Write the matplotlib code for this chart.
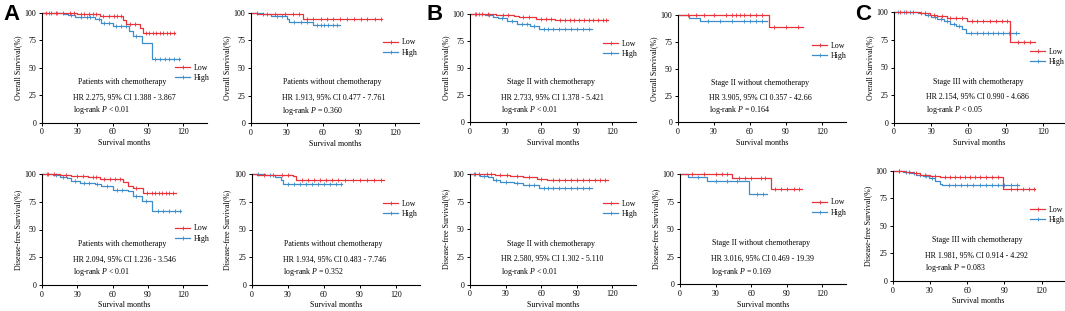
import numpy as np
import matplotlib
matplotlib.use('Agg')
import matplotlib.pyplot as plt
from matplotlib.lines import Line2D

# figure size in pixels
W, H = 1065, 311

plt.rcParams['font.family'] = ['Liberation Serif', 'DejaVu Serif']
plt.rcParams['mathtext.fontset'] = 'custom'
plt.rcParams['mathtext.rm'] = 'Liberation Serif'
plt.rcParams['mathtext.it'] = 'Liberation Serif:italic'

red = '#E8333A'
blue = '#3C8DC9'

# ---- Overall survival, patients with chemotherapy (A, top) ----
a_os_low_t = [0, 15, 30, 49, 55, 69, 71, 83, 86, 113]
a_os_low_s = [100, 99.2, 98.5, 97, 96.5, 93, 90, 85.5, 81.5, 81.5]
a_os_low_c = [3, 8, 12, 18, 24, 27, 33, 36, 40, 43, 46, 52, 57, 61, 64, 67, 75, 79, 88, 91, 94, 97, 100, 103, 106, 109, 112]
a_os_high_t = [0, 19, 22, 28, 45, 50, 60, 74, 77, 84.5, 93, 117]
a_os_high_s = [100, 99, 98, 96, 94, 90.5, 87.5, 83, 78.5, 72.5, 58, 58]
a_os_high_c = [6, 13, 25, 33, 38, 41, 48, 53, 57, 63, 67, 71, 80, 96, 100, 104, 108, 112, 116]

# ---- Overall survival, patients without chemotherapy (A, top) ----
a2_os_low_t = [0, 4.7, 43.5, 109]
a2_os_low_s = [100, 98.5, 94.3, 94.3]
a2_os_low_c = [10, 20, 28, 35, 40, 47, 52, 58, 63, 68, 74, 80, 86, 92, 97, 103, 108]
a2_os_high_t = [0, 9, 17, 30, 31.5, 52, 74]
a2_os_high_s = [100, 99, 97, 94, 92, 89, 89]
a2_os_high_c = [5, 13, 22, 26, 36, 42, 47, 55, 58, 61, 64, 68, 72]

# ---- Overall survival, stage II with chemotherapy (B, top) ----
b_os_low_t = [0, 22, 37, 41, 56, 72, 116]
b_os_low_s = [100, 99.5, 98, 97, 95.5, 94, 94]
b_os_low_c = [5, 10, 15, 28, 32, 45, 50, 60, 64, 68, 76, 80, 84, 88, 92, 96, 100, 104, 108, 112, 115]
b_os_high_t = [0, 12.7, 19.5, 23.7, 31, 39.5, 51, 58, 103]
b_os_high_s = [100, 99, 97, 96, 93.5, 91, 88.5, 86, 86]
b_os_high_c = [4, 8, 16, 27, 35, 44, 48, 54, 62, 66, 70, 75, 80, 85, 90, 95, 100]

# ---- Overall survival, stage II without chemotherapy (B, top) ----
b2_os_low_t = [0, 76, 104]
b2_os_low_s = [100, 89, 89]
b2_os_low_c = [8, 15, 22, 30, 40, 45, 48, 52, 55, 60, 65, 70, 80, 90, 100]
b2_os_high_t = [0, 9.5, 18.6, 74]
b2_os_high_s = [100, 97.5, 94, 94]
b2_os_high_c = [25, 35, 45, 55, 60, 65, 70]

# ---- Overall survival, stage III with chemotherapy (C, top) ----
c_os_low_t = [0, 21, 29, 35, 42.5, 59, 93.4, 114]
c_os_low_s = [100, 99, 98, 97, 95, 92.5, 73.5, 73.5]
c_os_low_c = [5, 10, 15, 25, 32, 39, 45, 50, 55, 63, 67, 72, 77, 82, 87, 91, 100, 105, 110]
c_os_high_t = [0, 19, 25, 30, 35, 40, 45, 50, 54.5, 58, 101]
c_os_high_s = [100, 99, 97.5, 96, 94, 92, 89, 87.5, 85, 81.5, 81.5]
c_os_high_c = [3, 8, 13, 22, 27, 33, 38, 43, 48, 52, 62, 67, 72, 76, 80, 84, 88, 93, 98]

# ---- Disease-free survival, patients with chemotherapy (A, bottom) ----
a_dfs_low_t = [0, 15, 25, 39, 49, 69, 73, 77, 86, 114]
a_dfs_low_s = [100, 99, 98, 97, 95.5, 92.5, 89.5, 87.5, 83, 83]
a_dfs_low_c = [5, 10, 20, 30, 35, 43, 46, 53, 58, 62, 66, 80, 89, 93, 96, 99, 102, 105, 108, 111]
a_dfs_high_t = [0, 9, 15, 21, 25, 32, 45, 50, 60, 73, 77, 84.5, 93, 118]
a_dfs_high_s = [100, 99, 97.6, 96, 94, 92, 91, 89, 86, 85, 80, 76, 66.5, 66.5]
a_dfs_high_c = [4, 12, 18, 28, 36, 40, 47, 55, 64, 68, 80, 88, 98, 103, 108, 113, 117]

# ---- Disease-free survival, patients without chemotherapy (A, bottom) ----
a2_dfs_low_t = [0, 4, 34.6, 37, 110]
a2_dfs_low_s = [100, 99, 98, 94.6, 94.6]
a2_dfs_low_c = [10, 18, 25, 30, 42, 47, 52, 57, 62, 67, 72, 78, 84, 90, 96, 102, 108]
a2_dfs_high_t = [0, 11, 19.5, 24, 26, 75]
a2_dfs_high_s = [100, 99, 97.5, 95, 91, 91]
a2_dfs_high_c = [5, 15, 30, 35, 40, 45, 50, 55, 60, 65, 70, 74]

# ---- Disease-free survival, stage II with chemotherapy (B, bottom) ----
b_dfs_low_t = [0, 21, 28, 34, 45, 56.5, 65, 116]
b_dfs_low_s = [100, 99.5, 99, 98, 97, 95.5, 94.5, 94.5]
b_dfs_low_c = [4, 8, 14, 18, 25, 31, 40, 50, 60, 70, 75, 80, 85, 90, 95, 100, 105, 110, 114]
b_dfs_high_t = [0, 8.5, 15, 19.5, 25, 36.7, 45, 58, 103]
b_dfs_high_s = [100, 98.2, 97, 95, 93, 91.5, 90.5, 87.5, 87.5]
b_dfs_high_c = [3, 12, 22, 30, 40, 50, 54, 62, 66, 70, 75, 80, 85, 90, 95, 100]

# ---- Disease-free survival, stage II without chemotherapy (B, bottom) ----
b2_dfs_low_t = [0, 43.7, 76.7, 103]
b2_dfs_low_s = [100, 96.5, 86, 86]
b2_dfs_low_c = [10, 20, 30, 35, 40, 50, 55, 60, 68, 72, 80, 85, 90, 96, 100]
b2_dfs_high_t = [0, 7, 22.5, 58.6, 73]
b2_dfs_high_s = [100, 97.5, 94, 82, 82]
b2_dfs_high_c = [15, 30, 40, 48, 65, 70]

# ---- Disease-free survival, stage III with chemotherapy (C, bottom) ----
c_dfs_low_t = [0, 10, 16, 22, 30, 38, 88.5, 115]
c_dfs_low_s = [100, 99, 98, 96.5, 95, 94.5, 83.5, 83.5]
c_dfs_low_c = [5, 13, 19, 26, 34, 42, 46, 50, 54, 58, 62, 66, 70, 75, 80, 85, 95, 100, 105, 110, 114]
c_dfs_high_t = [0, 8, 14, 19, 24.5, 29, 34, 38, 40, 102]
c_dfs_high_s = [100, 99, 98, 96.5, 95, 93, 91, 88, 86.7, 86.7]
c_dfs_high_c = [5, 11, 17, 22, 27, 32, 45, 50, 55, 60, 65, 70, 75, 80, 85, 90, 95, 100]

titles = ['Patients with chemotherapy', 'Patients without chemotherapy',
          'Stage II with chemotherapy', 'Stage II without chemotherapy',
          'Stage III with chemotherapy']
hr_top = ['HR 2.275, 95% CI 1.388 - 3.867', 'HR 1.913, 95% CI 0.477 - 7.761',
          'HR 2.733, 95% CI 1.378 - 5.421', 'HR 3.905, 95% CI 0.357 - 42.66',
          'HR 2.154, 95% CI 0.990 - 4.686']
p_top = ['< 0.01', '= 0.360', '< 0.01', '= 0.164', '< 0.05']
hr_bot = ['HR 2.094, 95% CI 1.236 - 3.546', 'HR 1.934, 95% CI 0.483 - 7.746',
          'HR 2.580, 95% CI 1.302 - 5.110', 'HR 3.016, 95% CI 0.469 - 19.39',
          'HR 1.981, 95% CI 0.914 - 4.292']
p_bot = ['< 0.01', '= 0.352', '< 0.01', '= 0.169', '= 0.083']

curves_top = [
    (a_os_low_t, a_os_low_s, a_os_low_c, a_os_high_t, a_os_high_s, a_os_high_c),
    (a2_os_low_t, a2_os_low_s, a2_os_low_c, a2_os_high_t, a2_os_high_s, a2_os_high_c),
    (b_os_low_t, b_os_low_s, b_os_low_c, b_os_high_t, b_os_high_s, b_os_high_c),
    (b2_os_low_t, b2_os_low_s, b2_os_low_c, b2_os_high_t, b2_os_high_s, b2_os_high_c),
    (c_os_low_t, c_os_low_s, c_os_low_c, c_os_high_t, c_os_high_s, c_os_high_c),
]
curves_bot = [
    (a_dfs_low_t, a_dfs_low_s, a_dfs_low_c, a_dfs_high_t, a_dfs_high_s, a_dfs_high_c),
    (a2_dfs_low_t, a2_dfs_low_s, a2_dfs_low_c, a2_dfs_high_t, a2_dfs_high_s, a2_dfs_high_c),
    (b_dfs_low_t, b_dfs_low_s, b_dfs_low_c, b_dfs_high_t, b_dfs_high_s, b_dfs_high_c),
    (b2_dfs_low_t, b2_dfs_low_s, b2_dfs_low_c, b2_dfs_high_t, b2_dfs_high_s, b2_dfs_high_c),
    (c_dfs_low_t, c_dfs_low_s, c_dfs_low_c, c_dfs_high_t, c_dfs_high_s, c_dfs_high_c),
]

# axes boxes in pixels: left, right, top (y=100), bottom (y=0), xmax
boxes_top = [(42, 207, 12.5, 122.7, 140), (251, 419, 12.7, 123.3, 140),
             (470, 636, 14, 122.3, 140), (678, 846, 15, 122.5, 140),
             (894, 1064, 12.3, 122.7, 137)]
boxes_bot = [(42, 207, 174, 285, 140), (251.7, 419.7, 174, 285, 140),
             (470, 636, 174, 284.7, 140), (680, 846, 174, 284.3, 140),
             (892.7, 1064, 170.7, 281, 138)]
# legend anchor (line start x, first row centre y) in pixels
leg_top = [(175, 68), (383, 43), (603, 44), (812, 46), (1030, 52)]
leg_bot = [(175, 229), (383, 204), (603, 204), (812, 203), (1030, 210)]

fs = 5.7


def km(ax, t, s, cens, color):
    # step curve plus censor ticks
    ax.step(t, s, where='post', color=color, lw=0.9, clip_on=False)
    idx = np.searchsorted(t, cens, side='right') - 1
    ax.plot(cens, np.array(s)[idx], ls='none', marker='|', ms=2.2, mew=0.6,
            color=color, clip_on=False)


fig = plt.figure(figsize=(W / 100, H / 100), dpi=100)

for row, (boxes, curves, hrs, ps, legs, ylab) in enumerate([
        (boxes_top, curves_top, hr_top, p_top, leg_top, 'Overall Survival(%)'),
        (boxes_bot, curves_bot, hr_bot, p_bot, leg_bot, 'Disease-free Survival(%)')]):
    for i in range(5):
        l, r, t, b, xmax = boxes[i]
        ax = fig.add_axes([l / W, 1 - b / H, (r - l) / W, (b - t) / H])
        lt, ls_, lc, ht, hs, hc = curves[i]
        km(ax, ht, hs, hc, blue)
        km(ax, lt, ls_, lc, red)
        ax.set_xlim(0, xmax)
        ax.set_ylim(0, 100)
        ax.set_xticks([0, 30, 60, 90, 120])
        ax.set_yticks([0, 25, 50, 75, 100])
        for sp in ['top', 'right']:
            ax.spines[sp].set_visible(False)
        for sp in ['left', 'bottom']:
            ax.spines[sp].set_linewidth(0.8)
        ax.tick_params(labelsize=fs, length=2.5, width=0.7, pad=1.5)
        ax.set_xlabel('Survival months', fontsize=fs, labelpad=2)
        ax.set_ylabel(ylab, fontsize=fs, labelpad=2)
        ax.text(68, 37, titles[i], fontsize=fs, ha='center', va='center')
        ax.text(26, 23, hrs[i], fontsize=fs, ha='left', va='center')
        ax.text(26, 11.5, 'log-rank $P$ ' + ps[i], fontsize=fs, ha='left', va='center')
        handles = [Line2D([0], [0], color=red, lw=0.9, marker='|', ms=2.2, mew=0.6),
                   Line2D([0], [0], color=blue, lw=0.9, marker='|', ms=2.2, mew=0.6)]
        lx, ly = legs[i]
        ax.legend(handles, ['Low', 'High'], loc='upper left',
                  bbox_to_anchor=(lx / W, 1 - (ly - 4.5) / H),
                  bbox_transform=fig.transFigure, frameon=False, fontsize=fs,
                  handlelength=1.9, handletextpad=0.5, labelspacing=0.3,
                  borderpad=0, borderaxespad=0, numpoints=1)

# panel letters
for letter, x in [('A', 3), ('B', 427), ('C', 855)]:
    fig.text(x / W, 1 - 4 / H, letter, fontsize=16, fontweight='bold',
             family='Liberation Sans', ha='left', va='top')

fig.savefig('out.png', dpi=100)
